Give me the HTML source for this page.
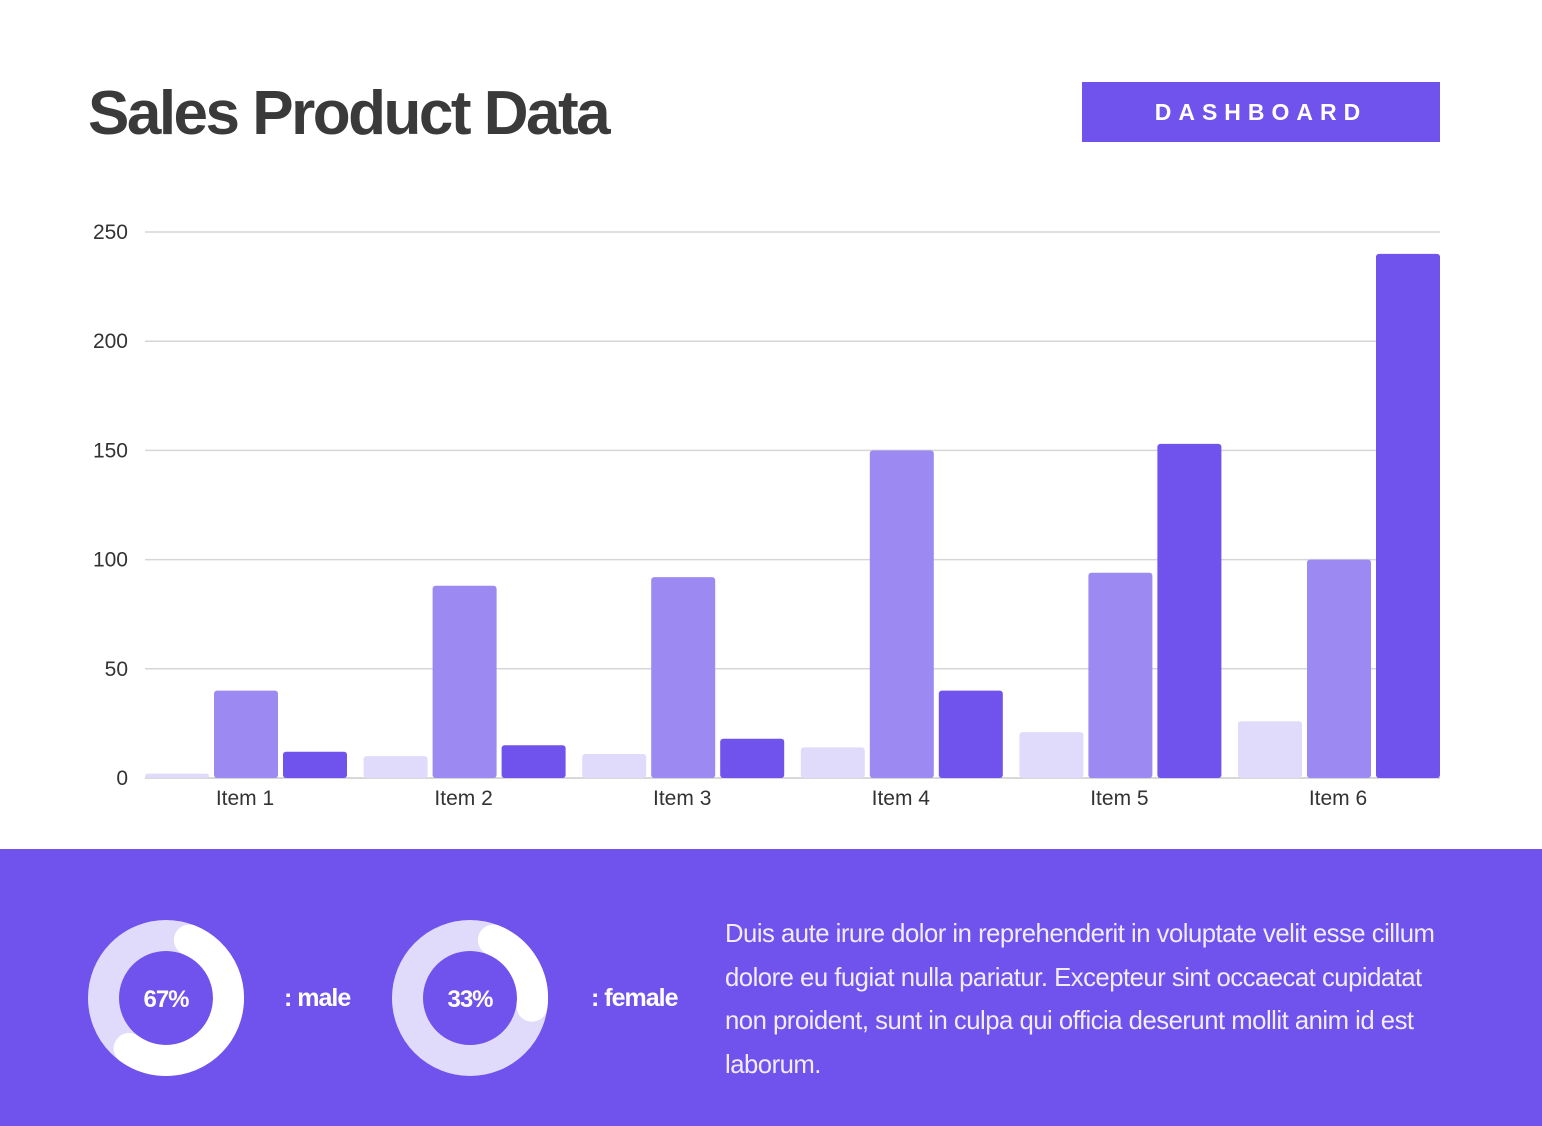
<!DOCTYPE html>
<html><head><meta charset="utf-8"><style>
body{margin:0;width:1542px;height:1126px;background:#fff;position:relative;overflow:hidden;font-family:"Liberation Sans",sans-serif}
.title{position:absolute;left:88px;top:78px;font-size:62px;font-weight:bold;color:#3a3a3a;letter-spacing:-2.5px}
.btn{position:absolute;left:1082px;top:82px;width:358px;height:60px;background:#7052ec;color:#fff;font-weight:bold;font-size:23px;letter-spacing:7px;text-align:center;line-height:60px}
.panel{position:absolute;left:0;top:849px;width:1542px;height:277px;background:#7052ec}
.lbl{position:absolute;color:#fff;font-size:25px;font-weight:bold;letter-spacing:-1px}
.para{position:absolute;left:725px;top:913px;width:716px;color:#f0edff;font-size:25.7px;line-height:43.5px;letter-spacing:-0.5px}
</style></head><body>
<div class="title">Sales Product Data</div>
<div class="btn">DASHBOARD</div>
<svg id="chart" width="1542" height="849" style="position:absolute;left:0;top:0"></svg>
<div class="panel">
<svg width="1542" height="277" style="position:absolute;left:0;top:0">
 <g>
  <circle cx="166" cy="149" r="62.5" fill="none" stroke="#e0dbfa" stroke-width="31"/>
  <circle cx="166" cy="149" r="62.5" fill="none" stroke="#fff" stroke-width="31" stroke-linecap="round" pathLength="100" stroke-dasharray="54 100" transform="rotate(-68 166 149)"/>
  <text x="166" y="158" fill="#fff" font-size="24" font-weight="bold" text-anchor="middle" letter-spacing="-1">67%</text>
 </g>
 <g>
  <circle cx="470" cy="149" r="62.5" fill="none" stroke="#e0dbfa" stroke-width="31"/>
  <circle cx="470" cy="149" r="62.5" fill="none" stroke="#fff" stroke-width="31" stroke-linecap="round" pathLength="100" stroke-dasharray="21 100" transform="rotate(-68 470 149)"/>
  <text x="470" y="158" fill="#fff" font-size="24" font-weight="bold" text-anchor="middle" letter-spacing="-1">33%</text>
 </g>
</svg>
<div class="lbl" style="left:284px;top:135px">: male</div>
<div class="lbl" style="left:591px;top:135px">: female</div>
</div>
<div class="para">Duis aute irure dolor in reprehenderit in voluptate velit esse cillum dolore eu fugiat nulla pariatur. Excepteur sint occaecat cupidatat non proident, sunt in culpa qui officia deserunt mollit anim id est laborum.</div>
<script>
const categories=["Item 1","Item 2","Item 3","Item 4","Item 5","Item 6"];
const series1=[2,10,11,14,21,26];
const series2=[40,88,92,150,94,100];
const series3=[12,15,18,40,153,240];
const yTicks=[0,50,100,150,200,250];
const colors=["#e0dbfa","#9d89f2","#7052ec"];
const NS="http://www.w3.org/2000/svg";
const svg=document.getElementById('chart');
const x0=145,x1=1440,yBase=778,yTop=232,yMax=250;
const y=v=>yBase-(v/yMax)*(yBase-yTop);
const barW=64,gap=5;
const clusterW=3*barW+2*gap;
const groupW=(x1-x0-clusterW)/(categories.length-1);
function mk(t,a){const e=document.createElementNS(NS,t);for(const k in a)e.setAttribute(k,a[k]);svg.appendChild(e);return e;}
yTicks.forEach(t=>{
 const l=mk('line',{x1:x0,x2:x1,y1:y(t),y2:y(t),stroke:t===0?'#cccccc':'#d6d6d6','stroke-width':1.5});
 
 
 const tx=mk('text',{x:128,y:y(t)+7,'text-anchor':'end','font-size':21,fill:'#333'});
 tx.textContent=t;
 
 
});
[series1,series2,series3].forEach((s,si)=>{
 s.forEach((v,i)=>{
  const bx=x0+i*groupW+si*(barW+gap);
  const r=mk('rect',{x:bx,y:y(v),width:barW,height:yBase-y(v),fill:colors[si],rx:3});
  
  
 });
});
categories.forEach((c,i)=>{
 const tx=mk('text',{x:x0+i*groupW+clusterW/2-1,y:805,'text-anchor':'middle','font-size':21,fill:'#333'});
 tx.textContent=c;
 
 
});
</script>
</body></html>
